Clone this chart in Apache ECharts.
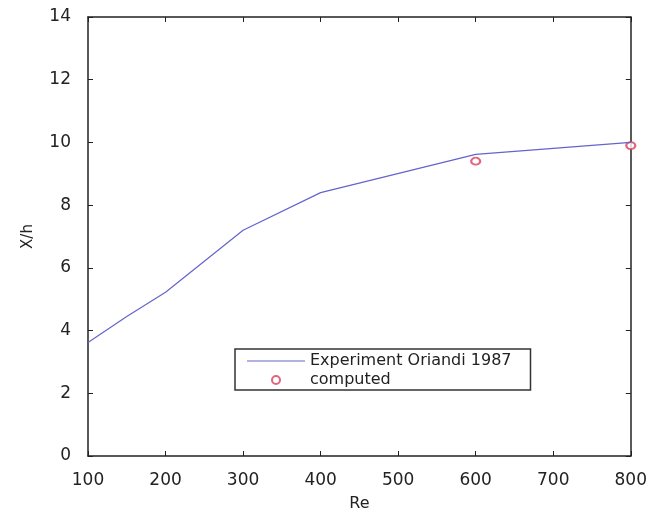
<!DOCTYPE html>
<html>
<head>
<meta charset="utf-8">
<script src="https://cdn.jsdelivr.net/npm/echarts@6/dist/echarts.min.js"></script>
<style>
html,body{margin:0;padding:0;background:#fff;}
#chart{width:650px;height:517px;}
</style>
</head>
<body>
<div id="chart"></div>
<script>
// Experiment (line)
const expRe = [100, 150, 200, 300, 400, 600, 800];
const expX  = [3.62, 4.45, 5.22, 7.2, 8.4, 9.62, 10.0];
// Computed (circles)
const compRe = [600, 800];
const compX  = [9.4, 9.9];

const xTicks = [100, 200, 300, 400, 500, 600, 700, 800];
const yTicks = [0, 2, 4, 6, 8, 10, 12, 14];

const FONT = 'DejaVu Sans';
const AX = '#222';

const chart = echarts.init(document.getElementById('chart'), null, {renderer: 'canvas'});

const baseAxis = {
  axisLine: {show: true, onZero: false, lineStyle: {color: AX, width: 1.5}},
  axisTick: {show: true, inside: true, length: 5, lineStyle: {color: AX, width: 1}},
  splitLine: {show: false}
};

chart.setOption({
  animation: false,
  backgroundColor: '#fff',
  grid: {left: 88, right: 19, top: 17, bottom: 59, containLabel: false},
  xAxis: [
    Object.assign({}, baseAxis, {
      type: 'value', min: xTicks[0], max: xTicks[xTicks.length - 1], interval: 100,
      position: 'bottom',
      name: 'Re', nameLocation: 'middle', nameGap: 40,
      nameTextStyle: {fontFamily: FONT, fontSize: 16, color: AX},
      axisLabel: {fontFamily: FONT, fontSize: 17, color: AX, margin: 16}
    }),
    Object.assign({}, baseAxis, {
      type: 'value', min: xTicks[0], max: xTicks[xTicks.length - 1], interval: 100,
      position: 'top', axisLabel: {show: false}
    })
  ],
  yAxis: [
    Object.assign({}, baseAxis, {
      type: 'value', min: yTicks[0], max: yTicks[yTicks.length - 1], interval: 2,
      position: 'left',
      name: 'X/h', nameLocation: 'middle', nameGap: 52, nameRotate: 90,
      nameTextStyle: {fontFamily: FONT, fontSize: 15, color: AX},
      axisLabel: {fontFamily: FONT, fontSize: 17, color: AX, margin: 17}
    }),
    Object.assign({}, baseAxis, {
      type: 'value', min: yTicks[0], max: yTicks[yTicks.length - 1], interval: 2,
      position: 'right', axisLabel: {show: false}
    })
  ],
  legend: {
    orient: 'vertical',
    left: 235, top: 349,
    padding: [4, 19, 2, 12],
    itemWidth: 58, itemHeight: 8, itemGap: 3,
    borderColor: '#333', borderWidth: 1.5,
    backgroundColor: '#fff',
    textStyle: {fontFamily: FONT, fontSize: 16, color: '#222'},
    data: [
      {name: 'Experiment Oriandi 1987', icon: 'path://M0,0 H58 V1.2 H0 Z'},
      {name: 'computed'}
    ]
  },
  series: [
    {
      name: 'Experiment Oriandi 1987',
      type: 'line',
      data: expRe.map((r, i) => [r, expX[i]]),
      showSymbol: false, symbol: 'none',
      lineStyle: {color: '#6464cc', width: 1.2},
      itemStyle: {color: '#6464cc'}
    },
    {
      name: 'computed',
      type: 'scatter',
      data: compRe.map((r, i) => [r, compX[i]]),
      symbol: 'emptyCircle',
      symbolSize: [9, 7],
      itemStyle: {color: '#d8405e', borderColor: '#d8405e', borderWidth: 1.2}
    }
  ]
});
</script>
</body>
</html>
